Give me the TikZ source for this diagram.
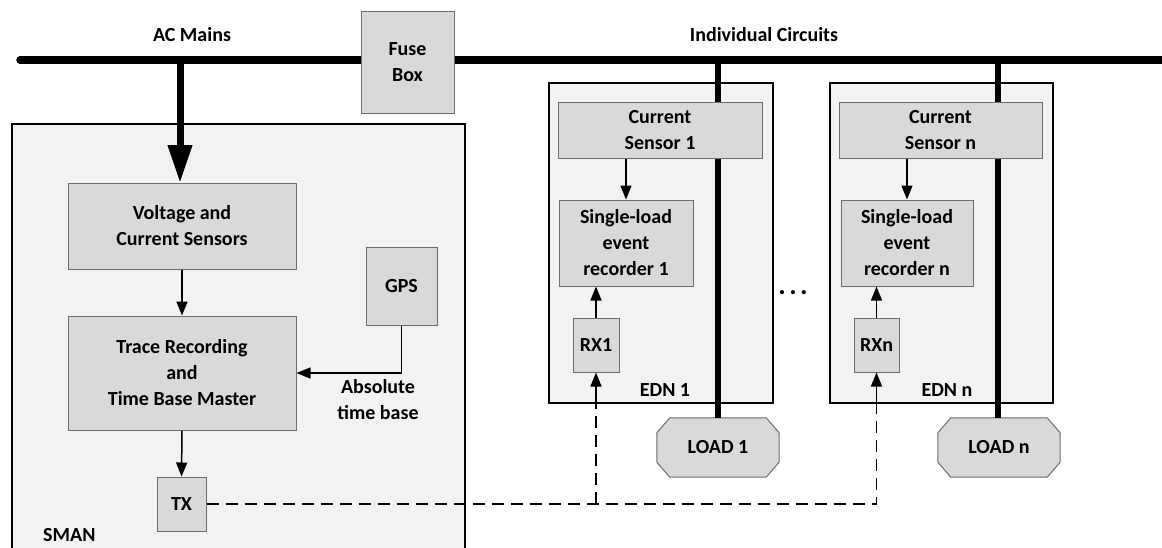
\documentclass[tikz,border=0pt]{standalone}
\usepackage{fontspec}
\setmainfont{Carlito}
\usetikzlibrary{arrows.meta,calc}
\definecolor{boxfill}{HTML}{D9D9D9}
\definecolor{bgfill}{HTML}{F2F2F2}
\definecolor{boxline}{HTML}{6D6D6D}
\tikzset{
  blk/.style={draw=boxline,line width=1pt,fill=boxfill,align=center,inner sep=0pt,
    font=\fontsize{20}{26}\selectfont\bfseries},
  cont/.style={draw=black,line width=2.2pt,fill=bgfill,inner sep=0pt},
  lbl/.style={align=center,inner sep=0pt,font=\fontsize{20}{26}\selectfont\bfseries},
  arr/.style={line width=1.5pt,-{Triangle[length=14pt,width=11pt]}},
  bigarr/.style={line width=7pt,-{Triangle[length=38pt,width=23pt]}},
  wire/.style={line width=6.5pt},
  radio/.style={line width=1.5pt,dash pattern=on 12pt off 7pt},
}
\begin{document}
\begin{tikzpicture}[x=1pt,y=-1pt]
\clip (0,0) rectangle (1162,547);
\useasboundingbox (0,0) rectangle (1162,547);
% containers
\node[cont,minimum width=453pt,minimum height=436pt] (sman) at (238.5,342) {};
\node[cont,minimum width=224pt,minimum height=320pt] (edn1) at (661,243) {};
\node[cont,minimum width=223pt,minimum height=320pt] (ednn) at (941.5,243) {};
% bus
\coordinate (busL) at (20,60);
\coordinate (busR) at (1170,60);
\draw[line width=7.5pt,line cap=round] (busL) -- (busR);
\coordinate (tapS) at (180,60);
\coordinate (tap1) at (718,60);
\coordinate (tapn) at (998,60);
\node[blk,minimum width=93pt,minimum height=102pt] (fuse) at (407.5,62) {Fuse\\Box};
\node[lbl] (acm) at (192,35) {AC Mains};
\node[lbl] (indc) at (764,35) {Individual Circuits};
% loads
\node[lbl,minimum width=122pt,minimum height=59pt] (load1) at (718,447.5) {};
\node[lbl,minimum width=122pt,minimum height=59pt] (loadn) at (999,447.5) {};
\foreach \L in {load1,loadn}{
  \draw[draw=boxline,line width=1pt,fill=boxfill]
    ($(\L.north west)+(13,0)$) -- ($(\L.north east)+(-13,0)$) -- ($(\L.north east)+(0,15)$)
    -- ($(\L.south east)+(0,-15)$) -- ($(\L.south east)+(-13,0)$) -- ($(\L.south west)+(13,0)$)
    -- ($(\L.south west)+(0,-15)$) -- ($(\L.north west)+(0,15)$) -- cycle;
}
\node[lbl] at (load1) {LOAD 1};
\node[lbl] at (loadn) {LOAD n};
% thick circuit wires
\draw[wire] (tap1) -- (load1.north);
\draw[wire] (tapn) -- (tapn |- loadn.north);
\draw[bigarr] (tapS) -- (180,183);
% SMAN blocks
\node[blk,minimum width=228pt,minimum height=86pt] (volt) at (182,226) {Voltage and\\Current Sensors};
\node[blk,minimum width=228pt,minimum height=114pt] (trace) at (182,373) {Trace Recording\\and\\Time Base Master};
\node[blk,minimum width=71pt,minimum height=78pt] (gps) at (401.5,286) {GPS};
\node[blk,minimum width=49pt,minimum height=54pt] (tx) at (181.5,504) {TX};
\node[lbl,anchor=west] (smanl) at (43,535) {SMAN};
\node[lbl] (abs) at (378,400) {Absolute\\time base};
\draw[arr] (volt.south) -- (trace.north);
\draw[arr] (trace.south) -- (tx.north);
\draw[arr] (gps.south) |- (trace.east);
% EDN blocks
\node[blk,minimum width=204pt,minimum height=56pt] (cs1) at (660,130) {Current\\Sensor 1};
\node[blk,minimum width=134pt,minimum height=86pt] (sl1) at (626,243) {Single-load\\event\\recorder 1};
\node[blk,minimum width=46pt,minimum height=54pt] (rx1) at (596,345) {RX1};
\node[lbl] (e1l) at (665,390) {EDN 1};
\node[blk,minimum width=203pt,minimum height=56pt] (csn) at (940.5,130) {Current\\Sensor n};
\node[blk,minimum width=132pt,minimum height=86pt] (sln) at (907,243) {Single-load\\event\\recorder n};
\node[blk,minimum width=45pt,minimum height=54pt] (rxn) at (876.5,345) {RXn};
\node[lbl] (enl) at (947,390) {EDN n};
\node[lbl,font=\fontsize{28}{30}\selectfont\bfseries] (dots) at (793,293) {.\hspace{3.5pt}.\hspace{3.5pt}.};
\draw[arr] (cs1.south -| sl1.north) -- (sl1.north);
\draw[arr] (csn.south -| sln.north) -- (sln.north);
\draw[arr] (rx1.north) -- (rx1.north |- sl1.south);
\draw[arr] (rxn.north) -- (rxn.north |- sln.south);
% radio links
\coordinate (j1) at (rx1.south |- tx.east);
\coordinate (jn) at (rxn.south |- tx.east);
\coordinate (b1) at (rx1.south |- edn1.south);
\coordinate (bn) at (rxn.south |- ednn.south);
\draw[radio] (tx.east) -- (jn) -- (bn);
\draw[radio] (j1) -- (b1);
\draw[arr] (b1) -- (rx1.south);
\draw[arr] (bn) -- (rxn.south);
\end{tikzpicture}
\end{document}
